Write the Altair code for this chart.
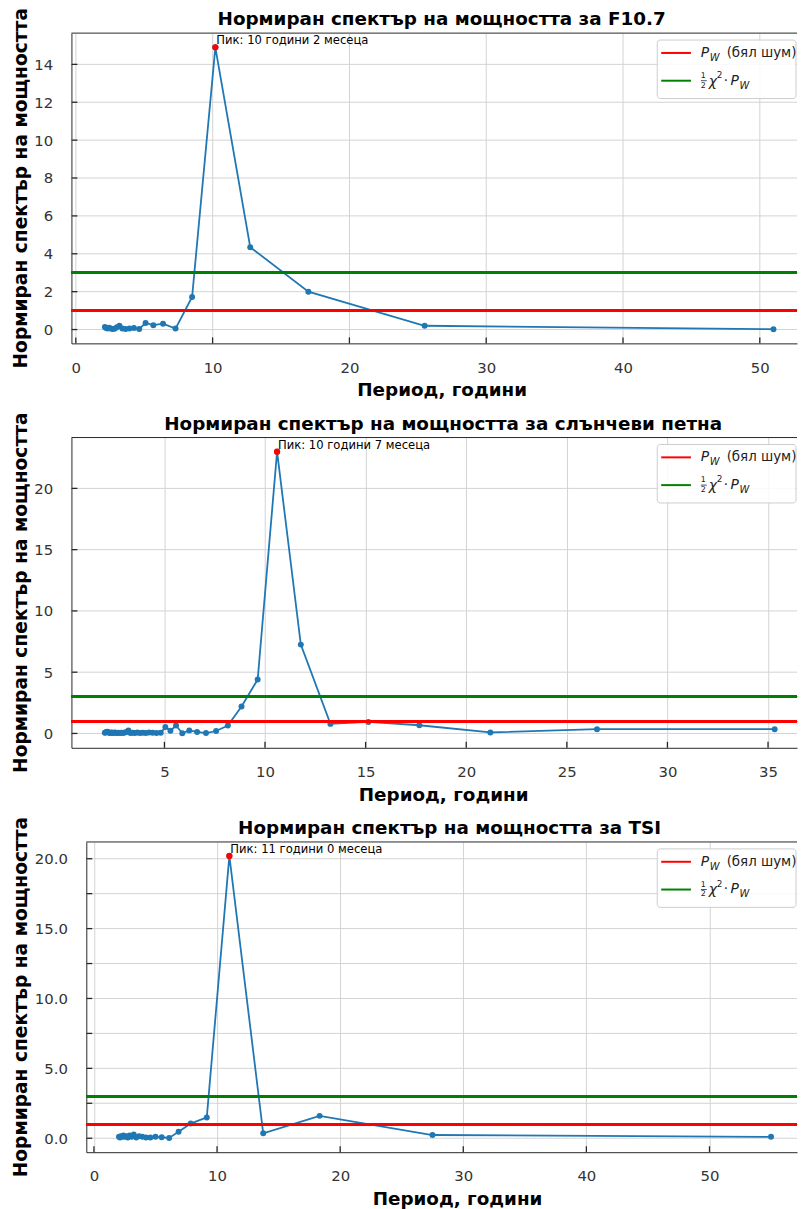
import altair as alt
import pandas as pd

# ---------------- data ----------------
f107_period = [51.0, 25.5, 17.0, 12.75, 10.2, 8.5, 7.29, 6.375, 5.667, 5.1, 4.636, 4.25,
               3.923, 3.643, 3.4, 3.188, 3.0, 2.833, 2.684, 2.55, 2.429, 2.318, 2.217, 2.125]
f107_power = [0.02, 0.2, 2.0, 4.35, 14.9, 1.72, 0.05, 0.31, 0.23, 0.35, 0.03, 0.08,
              0.05, 0.03, 0.06, 0.2, 0.12, 0.04, 0.03, 0.06, 0.1, 0.05, 0.08, 0.14]

ssn_period = [35.33, 26.5, 21.2, 17.67, 15.14, 13.25, 11.78, 10.6, 9.636, 8.833, 8.154, 7.571,
              7.067, 6.625, 6.235, 5.889, 5.579, 5.3, 5.048, 4.818, 4.609, 4.417, 4.24, 4.077,
              3.926, 3.786, 3.655, 3.533, 3.419, 3.313, 3.212, 3.118, 3.029, 2.944, 2.865, 2.789,
              2.718, 2.65, 2.585, 2.524, 2.465, 2.409, 2.356, 2.304, 2.255, 2.208, 2.163, 2.12,
              2.078, 2.038]
ssn_power = [0.35, 0.35, 0.08, 0.67, 0.94, 0.78, 7.25, 23.0, 4.4, 2.2, 0.65, 0.2,
             0.03, 0.12, 0.25, 0.02, 0.65, 0.22, 0.52, 0.05, 0.04, 0.06, 0.08, 0.03,
             0.05, 0.04, 0.07, 0.03, 0.05, 0.04, 0.25, 0.12, 0.08, 0.03, 0.05, 0.04,
             0.06, 0.03, 0.05, 0.07, 0.04, 0.05, 0.08, 0.04, 0.06, 0.1, 0.15, 0.12,
             0.08, 0.05]

tsi_period = [55.0, 27.5, 18.33, 13.75, 11.0, 9.167, 7.857, 6.875, 6.111, 5.5, 5.0, 4.583,
              4.231, 3.929, 3.667, 3.438, 3.235, 3.056, 2.895, 2.75, 2.619, 2.5, 2.391, 2.292,
              2.2, 2.115, 2.037]
tsi_power = [0.1, 0.23, 1.6, 0.35, 20.2, 1.49, 1.05, 0.47, 0.02, 0.07, 0.1, 0.05,
             0.05, 0.1, 0.15, 0.05, 0.26, 0.1, 0.2, 0.05, 0.15, 0.1, 0.2, 0.1,
             0.15, 0.05, 0.1]

titles = ["Нормиран спектър на мощността за F10.7",
          "Нормиран спектър на мощността за слънчеви петна",
          "Нормиран спектър на мощността за TSI"]
peak_labels = ["Пик: 10 години 2 месеца", "Пик: 10 години 7 месеца", "Пик: 11 години 0 месеца"]
x_title = "Период, години"
y_title = "Нормиран спектър на мощността"
legend_white = "(бял шум)"

white_noise_level = 1.0
chi2_level = 3.0

x_ticks_1 = [0, 10, 20, 30, 40, 50]
y_ticks_1 = [0, 2, 4, 6, 8, 10, 12, 14]
x_ticks_2 = [5, 10, 15, 20, 25, 30, 35]
y_ticks_2 = [0, 5, 10, 15, 20]
x_ticks_3 = [0, 10, 20, 30, 40, 50]
y_ticks_3 = [0, 2.5, 5, 7.5, 10, 12.5, 15, 17.5, 20]

FONT = "DejaVu Sans"
BLUE = "#1f77b4"
RED = "#ff0000"
GREEN = "#008000"
FRAME = "#262626"
GRID = "#d2d2d2"
W = 732
H = 313


def panel(period, power, title, peak_label, xdom, ydom, xticks, yticks, yfmt, x0, tdx):
    df = pd.DataFrame({"period": period, "power": power})
    i = power.index(max(power))
    pk = pd.DataFrame({"period": [period[i]], "power": [power[i]], "label": [peak_label]})

    x = alt.X("period:Q", scale=alt.Scale(domain=xdom, nice=False, zero=False, range=[x0, W]),
              axis=alt.Axis(values=xticks, title=x_title, grid=True, format="d",
                            titleX=(x0 + W) / 2 + tdx))
    yaxis = alt.Axis(values=yticks, title=None, grid=False, format=yfmt, offset=-x0)
    yscale = alt.Scale(domain=ydom, nice=False, zero=False)

    gy = alt.Chart(pd.DataFrame({"t": yticks})).mark_rule(color=GRID, strokeWidth=1).encode(
        y=alt.Y("t:Q", scale=yscale, axis=yaxis),
        x=alt.value(x0), x2=alt.value(W))
    line = alt.Chart(df).mark_line(color=BLUE, strokeWidth=1.8).encode(x=x, y="power:Q")
    pts = alt.Chart(df).mark_circle(color=BLUE, size=36, opacity=1).encode(x="period:Q", y="power:Q")
    h1 = alt.Chart(df).mark_rule(color=RED, strokeWidth=2).encode(
        y=alt.datum(white_noise_level), x=alt.value(x0), x2=alt.value(W))
    h2 = alt.Chart(df).mark_rule(color=GREEN, strokeWidth=2).encode(
        y=alt.datum(chi2_level), x=alt.value(x0), x2=alt.value(W))
    peak = alt.Chart(pk).mark_circle(color=RED, size=40, opacity=1).encode(x="period:Q", y="power:Q")
    ann = alt.Chart(pk).mark_text(align="left", baseline="alphabetic", dx=1, dy=-3, font=FONT,
                                  fontSize=11.7, color="#000000").encode(
        x="period:Q", y="power:Q", text="label:N")

    one = pd.DataFrame({"a": [0]})
    top = alt.Chart(one).mark_rule(color=FRAME, strokeWidth=1).encode(
        x=alt.value(x0), x2=alt.value(W), y=alt.value(0))
    xt = alt.Chart(pd.DataFrame({"t": xticks})).mark_rule(color=FRAME, strokeWidth=1.3).encode(
        x="t:Q", y=alt.value(H), y2=alt.value(H - 6))
    yt = alt.Chart(pd.DataFrame({"t": yticks})).mark_rule(color=FRAME, strokeWidth=1.3).encode(
        y="t:Q", x=alt.value(x0), x2=alt.value(x0 + 6))
    ytitle = alt.Chart(one).mark_text(angle=270, align="center", baseline="middle", font=FONT,
                                      fontSize=18.8, fontWeight="bold", color="#000000").encode(
        x=alt.value(-51), y=alt.value(H / 2), text=alt.value(y_title))

    # legend drawn by hand (math-text labels)
    box = alt.Chart(one).mark_rect(fill="white", fillOpacity=0.85, stroke="#cccccc",
                                   strokeWidth=1, cornerRadius=3).encode(
        x=alt.value(W - 141), x2=alt.value(W - 1), y=alt.value(7), y2=alt.value(66))
    l1 = alt.Chart(one).mark_rule(color=RED, strokeWidth=2).encode(
        x=alt.value(W - 137), x2=alt.value(W - 107), y=alt.value(20))
    l2 = alt.Chart(one).mark_rule(color=GREEN, strokeWidth=2).encode(
        x=alt.value(W - 137), x2=alt.value(W - 107), y=alt.value(48))
    fbar = alt.Chart(one).mark_rule(color="#222222", strokeWidth=0.8).encode(
        x=alt.value(W - 97), x2=alt.value(W - 91), y=alt.value(48))

    def txt(s, dx, yy, size=13.5, style="normal"):
        return alt.Chart(one).mark_text(align="left", baseline="middle", font=FONT,
                                        fontSize=size, fontStyle=style, color="#222222").encode(
            x=alt.value(W - 97 + dx), y=alt.value(yy), text=alt.value(s))

    t1 = [txt("P", 0, 20, 14, "italic"), txt("W", 9, 25, 10, "italic"),
          txt(legend_white, 26, 20, 13.5)]
    t2 = [txt("1", 0, 43, 8), txt("2", 0, 53, 8),
          txt("χ", 8, 49, 14, "italic"), txt("2", 16, 42, 9),
          txt("·", 23, 48, 13.5), txt("P", 30, 48, 14, "italic"), txt("W", 39, 53, 10, "italic")]

    return alt.layer(gy, line, pts, h1, h2, top, xt, yt, peak, ann, ytitle, box, l1, l2, fbar,
                     *t1, *t2).properties(
        width=W, height=H,
        title=alt.TitleParams(title, font=FONT, fontSize=18.5, fontWeight="bold", color="#000000",
                              anchor="middle", frame="group", baseline="bottom", offset=-40,
                              dx=tdx))


p1 = panel(f107_period, f107_power, titles[0], peak_labels[0], [-0.32, 52.72], [-0.73, 15.65],
           x_ticks_1, y_ticks_1, "d", 0, 7.5)
p2 = panel(ssn_period, ssn_power, titles[1], peak_labels[1], [0.38, 36.44], [-1.17, 24.15],
           x_ticks_2, y_ticks_2, "d", 0, 9)
p3 = panel(tsi_period, tsi_power, titles[2], peak_labels[2], [-0.62, 57.11], [-1.0, 21.2],
           x_ticks_3, y_ticks_3, ".1f", 15, 15.5)

chart = alt.concat(p1, p2, p3, columns=1, spacing=12).properties(
    padding={"left": 3, "top": -6, "right": 0, "bottom": 0}
).configure_view(
    stroke=None
).configure_axis(
    labelFont=FONT, labelFontSize=15, labelColor="#333333", labelOverlap=False,
    titleFont=FONT, titleFontSize=18.5, titleFontWeight="bold", titleColor="#000000",
    tickSize=0, domain=True, domainColor=FRAME, domainWidth=1,
    gridColor=GRID, gridWidth=1, labelFlush=False
).configure_axisX(labelPadding=17, titlePadding=6).configure_axisY(labelPadding=19)

chart.save("out.html", embed_options={"renderer": "svg", "actions": False})
